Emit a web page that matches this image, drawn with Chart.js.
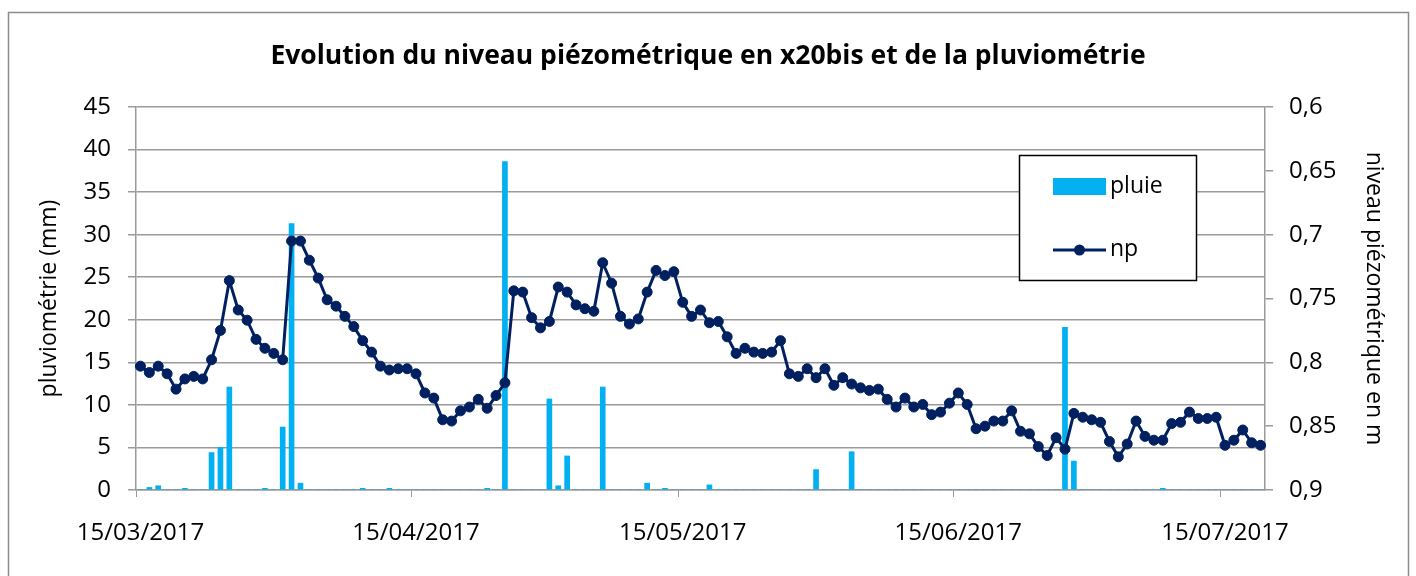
<!DOCTYPE html>
<html>
<head>
<meta charset="utf-8">
<script src="https://cdn.jsdelivr.net/npm/chart.js@4/dist/chart.umd.min.js"></script>
<style>
  body { margin: 0; background: #fff; }
  #wrap { width: 1416px; height: 576px; }
</style>
</head>
<body>
<div id="wrap"><canvas id="chart" width="1416" height="576"></canvas></div>
<script>
// one value per day, from 15/03/2017 to 19/07/2017
const firstDay = "2017-03-15";
const dayCount = 127;
const tickLabels = ["15/03/2017", "15/04/2017", "15/05/2017", "15/06/2017", "15/07/2017"];

const pluie = [
  0, 0.3, 0.5, 0, 0, 0.2, 0, 0, 4.4, 5.0,
  12.1, 0, 0, 0, 0.2, 0, 7.4, 31.3, 0.8, 0,
  0, 0, 0, 0, 0, 0.2, 0, 0, 0.2, 0,
  0, 0, 0, 0, 0, 0, 0, 0, 0, 0.2,
  0, 38.6, 0, 0, 0, 0, 10.7, 0.5, 4.0, 0,
  0, 0, 12.1, 0, 0, 0, 0, 0.8, 0, 0.2,
  0, 0, 0, 0, 0.6, 0, 0, 0, 0, 0,
  0, 0, 0, 0, 0, 0, 2.4, 0, 0, 0,
  4.5, 0, 0, 0, 0, 0, 0, 0, 0, 0,
  0, 0, 0, 0, 0, 0, 0, 0, 0, 0,
  0, 0, 0, 0, 19.1, 3.4, 0, 0, 0, 0,
  0, 0, 0, 0, 0, 0.2, 0, 0, 0, 0,
  0, 0, 0, 0, 0, 0, 0
];

const np = [
  0.803, 0.808, 0.803, 0.809, 0.821, 0.813, 0.811, 0.813, 0.798, 0.775,
  0.736, 0.759, 0.767, 0.782, 0.789, 0.793, 0.798, 0.705, 0.705, 0.720,
  0.734, 0.751, 0.756, 0.764, 0.772, 0.783, 0.792, 0.803, 0.806, 0.805,
  0.805, 0.809, 0.824, 0.828, 0.845, 0.846, 0.838, 0.835, 0.829, 0.836,
  0.826, 0.816, 0.744, 0.745, 0.765, 0.773, 0.768, 0.741, 0.745, 0.755,
  0.758, 0.760, 0.722, 0.738, 0.764, 0.770, 0.766, 0.745, 0.728, 0.732,
  0.729, 0.753, 0.764, 0.759, 0.769, 0.768, 0.780, 0.793, 0.789, 0.792,
  0.793, 0.792, 0.783, 0.809, 0.811, 0.805, 0.812, 0.805, 0.818, 0.812,
  0.817, 0.820, 0.822, 0.821, 0.829, 0.835, 0.828, 0.835, 0.833, 0.841,
  0.839, 0.832, 0.824, 0.833, 0.852, 0.850, 0.846, 0.846, 0.838, 0.854,
  0.856, 0.866, 0.873, 0.859, 0.868, 0.840, 0.843, 0.845, 0.847, 0.862,
  0.874, 0.864, 0.846, 0.858, 0.861, 0.861, 0.848, 0.847, 0.839, 0.844,
  0.844, 0.843, 0.865, 0.861, 0.853, 0.863, 0.865
];

const labels = [];
for (let i = 0; i < dayCount; i++) {
  const d = new Date(firstDay + "T12:00:00Z");
  d.setUTCDate(d.getUTCDate() + i);
  const dd = String(d.getUTCDate()).padStart(2, "0");
  const mm = String(d.getUTCMonth() + 1).padStart(2, "0");
  labels.push(dd + "/" + mm + "/" + d.getUTCFullYear());
}

const FONT = "'Open Sans', 'Liberation Sans', sans-serif";
const GRID = "#9a9a9a";
const BAR = "#00b0f0";
const LINE = "#002060";

Chart.defaults.font.family = FONT;
Chart.defaults.color = "#000";

const frame = {
  id: "frame",
  beforeDraw(chart) {
    const ctx = chart.ctx;
    ctx.save();
    ctx.fillStyle = "#fff";
    ctx.fillRect(0, 0, chart.width, chart.height);
    ctx.strokeStyle = "#8c8c8c";
    ctx.lineWidth = 1.5;
    ctx.strokeRect(8.5, 12.5, 1400, 600);
    ctx.restore();
  }
};

const boxLegend = {
  id: "boxLegend",
  afterDraw(chart) {
    const ctx = chart.ctx;
    const [bars, line] = chart.data.datasets;
    ctx.save();
    ctx.fillStyle = "#fff";
    ctx.fillRect(1019, 155, 178, 126);
    ctx.strokeStyle = "#000";
    ctx.lineWidth = 1.5;
    ctx.strokeRect(1019.5, 155.5, 177, 125);

    ctx.fillStyle = bars.backgroundColor;
    ctx.fillRect(1053, 178, 53, 17);

    ctx.strokeStyle = line.borderColor;
    ctx.lineWidth = 3;
    ctx.beginPath();
    ctx.moveTo(1053, 250);
    ctx.lineTo(1106, 250);
    ctx.stroke();
    ctx.fillStyle = line.borderColor;
    ctx.beginPath();
    ctx.arc(1079.5, 250, 5.5, 0, Math.PI * 2);
    ctx.fill();

    ctx.fillStyle = "#000";
    ctx.font = "23px " + FONT;
    ctx.textBaseline = "middle";
    ctx.fillText(bars.label, 1110, 186);
    ctx.fillText(line.label, 1110, 249);
    ctx.restore();
  }
};

new Chart(document.getElementById("chart"), {
  data: {
    labels: labels,
    datasets: [
      {
        type: "bar",
        label: "pluie",
        data: pluie,
        yAxisID: "y",
        backgroundColor: BAR,
        barThickness: 5,
        order: 2,
      },
      {
        type: "line",
        label: "np",
        data: np,
        yAxisID: "y1",
        borderColor: LINE,
        backgroundColor: LINE,
        borderWidth: 3,
        pointRadius: 5,
        pointBorderWidth: 1,
        pointHoverRadius: 5,
        tension: 0,
        order: 1,
      },
    ],
  },
  options: {
    responsive: false,
    animation: false,
    layout: { padding: 0 },
    plugins: {
      legend: { display: false },
      tooltip: { enabled: false },
      title: {
        display: true,
        text: "Evolution du niveau piézométrique en x20bis et de la pluviométrie",
        color: "#000",
        font: { size: 26.5, weight: "bold", lineHeight: 1.2 },
        padding: { top: 41, bottom: 34.2 },
      },
    },
    scales: {
      x: {
        type: "category",
        offset: true,
        afterFit(scale) { scale.height = 86; },
        grid: {
          offset: true,
          drawOnChartArea: false,
          tickLength: 7,
          color: (ctx) => (tickLabels.includes(labels[ctx.index]) ? GRID : "rgba(0,0,0,0)"),
        },
        border: { display: true, color: GRID, width: 1.5 },
        ticks: {
          autoSkip: false,
          maxRotation: 0,
          padding: 22,
          font: { size: 24 },
          callback: (value, index) => (tickLabels.includes(labels[index]) ? labels[index] : ""),
        },
      },
      y: {
        position: "left",
        min: 0,
        max: 45,
        afterFit(scale) { scale.width = 136; },
        ticks: { stepSize: 5, padding: 17, font: { size: 24 } },
        grid: { color: GRID, lineWidth: 1.5, tickLength: 8 },
        border: { display: true, color: GRID, width: 1.5 },
        title: {
          display: true,
          text: "pluviométrie (mm)",
          font: { size: 23, lineHeight: 1.2 },
          padding: { top: 36 },
        },
      },
      y1: {
        position: "right",
        reverse: true,
        min: 0.6,
        max: 0.9,
        afterFit(scale) { scale.width = 151; },
        ticks: {
          stepSize: 0.05,
          padding: 16,
          font: { size: 24 },
          callback: (v) => String(Math.round(v * 100) / 100).replace(".", ","),
        },
        grid: { drawOnChartArea: false, color: GRID, lineWidth: 1.5, tickLength: 8 },
        border: { display: true, color: GRID, width: 1.5 },
        title: {
          display: true,
          text: "niveau piézométrique en m",
          font: { size: 23, lineHeight: 1.2 },
          padding: { top: 29 },
        },
      },
    },
  },
  plugins: [frame, boxLegend],
});
</script>
</body>
</html>
